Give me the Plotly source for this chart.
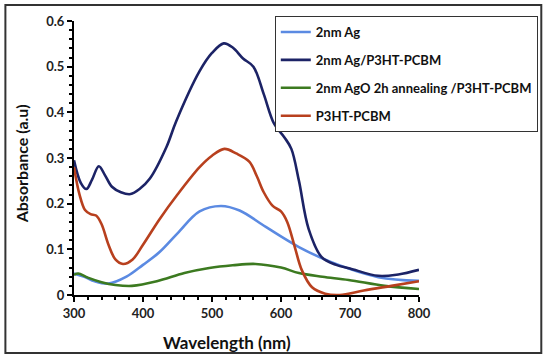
import plotly.graph_objects as go

# ---- data ----
wl_ag = [300, 315, 330, 350, 376, 400, 424, 450, 482, 513, 540, 578, 626, 673, 741, 800]
abs_ag = [0.047, 0.040, 0.030, 0.025, 0.040, 0.066, 0.094, 0.135, 0.183, 0.195, 0.185, 0.149, 0.105, 0.072, 0.039, 0.031]

wl_ag_p3ht = [300, 310, 318, 326, 336, 345, 355, 368, 382, 395, 410, 434, 448, 482, 500, 517, 530, 545, 560,
              575, 590, 605, 615, 626, 640, 659, 680, 700, 741, 770, 800]
abs_ag_p3ht = [0.295, 0.245, 0.232, 0.252, 0.282, 0.262, 0.237, 0.225, 0.221, 0.232, 0.255, 0.324, 0.38, 0.49,
               0.53, 0.551, 0.542, 0.518, 0.50, 0.44, 0.375, 0.345, 0.32, 0.25, 0.145, 0.083, 0.066, 0.058,
               0.042, 0.045, 0.055]

wl_ago = [300, 306, 320, 340, 360, 384, 420, 460, 496, 530, 563, 600, 626, 660, 698, 750, 800]
abs_ago = [0.044, 0.047, 0.038, 0.028, 0.022, 0.020, 0.030, 0.048, 0.059, 0.065, 0.068, 0.060, 0.048, 0.040,
           0.033, 0.020, 0.013]

wl_p3ht = [300, 308, 316, 324, 332, 340, 350, 360, 371, 385, 400, 424, 450, 482, 500, 518, 535, 554, 565, 575,
           588, 600, 609, 620, 630, 645, 664, 685, 720, 760, 800]
abs_p3ht = [0.28, 0.22, 0.186, 0.177, 0.174, 0.155, 0.11, 0.078, 0.068, 0.078, 0.11, 0.166, 0.22, 0.28, 0.305,
            0.32, 0.31, 0.292, 0.26, 0.225, 0.195, 0.183, 0.16, 0.105, 0.055, 0.017, 0.003, 0.0, 0.01, 0.02, 0.03]

names = ["2nm Ag", "2nm Ag/P3HT-PCBM", "2nm AgO 2h annealing /P3HT-PCBM", "P3HT-PCBM"]
colors = ["#5B8AE2", "#1C2366", "#3C7A20", "#B8401E"]

x_ticks = [300, 400, 500, 600, 700, 800]
y_ticks = [0, 0.1, 0.2, 0.3, 0.4, 0.5, 0.6]
y_tick_text = ["0", "0.1", "0.2", "0.3", "0.4", "0.5", "0.6"]

FONT = "Lato"

fig = go.Figure()
for i, (xs, ys) in enumerate([(wl_ag, abs_ag), (wl_ag_p3ht, abs_ag_p3ht), (wl_ago, abs_ago), (wl_p3ht, abs_p3ht)]):
    fig.add_trace(go.Scatter(
        x=xs, y=ys, mode="lines", name=names[i], legendgroup=f"g{i}",
        line=dict(color=colors[i], width=2.6, shape="spline", smoothing=1.0),
    ))

axis_common = dict(
    showgrid=False, zeroline=False, showline=True, linecolor="black", linewidth=2,
    ticks="outside", ticklen=5, tickwidth=2, tickcolor="black",
    tickfont=dict(family=FONT, size=13, color="#222222", weight="bold"),
)

fig.update_layout(
    width=550, height=361,
    margin=dict(l=74, r=129, t=21, b=66),
    paper_bgcolor="white", plot_bgcolor="white",
    showlegend=True,
    legend=dict(
        x=0.582, y=1.018, xanchor="left", yanchor="top",
        bordercolor="#333333", borderwidth=1, bgcolor="white",
        font=dict(family=FONT, size=13, color="#111111", weight="bold"),
        traceorder="grouped", tracegroupgap=8, itemwidth=30,
    ),
    xaxis=dict(range=[300, 800], tickvals=x_ticks, **axis_common,
               minor=dict(dtick=20, ticks="outside", ticklen=3, tickwidth=1.5, tickcolor="black")),
    yaxis=dict(range=[0, 0.6], tickvals=y_ticks, ticktext=y_tick_text, **axis_common,
               minor=dict(dtick=0.02, ticks="outside", ticklen=3, tickwidth=1.5, tickcolor="black")),
    xaxis2=dict(overlaying="x", matches="x", anchor="y", side="bottom", showgrid=False, zeroline=False,
                showline=False, ticks="inside", ticklen=3, tickwidth=2, tickcolor="black", tickvals=x_ticks,
                showticklabels=False,
                minor=dict(dtick=20, ticks="inside", ticklen=2, tickwidth=1.5, tickcolor="black")),
    yaxis2=dict(overlaying="y", matches="y", anchor="x", side="left", showgrid=False, zeroline=False,
                showline=False, ticks="inside", ticklen=3, tickwidth=2, tickcolor="black", tickvals=y_ticks,
                showticklabels=False,
                minor=dict(dtick=0.02, ticks="inside", ticklen=2, tickwidth=1.5, tickcolor="black")),
    annotations=[
        dict(text="Wavelength (nm)", xref="paper", yref="paper", x=(228 - 74) / 347, y=(295 - 342) / 274,
             showarrow=False, xanchor="center", yanchor="middle",
             font=dict(family=FONT, size=17, color="#111111", weight="bold")),
        dict(text="Absorbance (a.u)", xref="paper", yref="paper", x=(21 - 74) / 347, y=(295 - 164) / 274,
             showarrow=False, xanchor="center", yanchor="middle", textangle=-90,
             font=dict(family=FONT, size=16, color="#111111", weight="bold")),
    ],
    shapes=[
        dict(type="rect", xref="paper", yref="paper",
             x0=(5 - 74) / 347, x1=(544 - 74) / 347, y0=(295 - 353) / 274, y1=(295 - 5) / 274,
             line=dict(color="#333333", width=2), fillcolor="rgba(0,0,0,0)", layer="below"),
    ],
)

fig.write_html("out.html", config={"displayModeBar": False},
               post_script="document.body.style.margin='0';")
